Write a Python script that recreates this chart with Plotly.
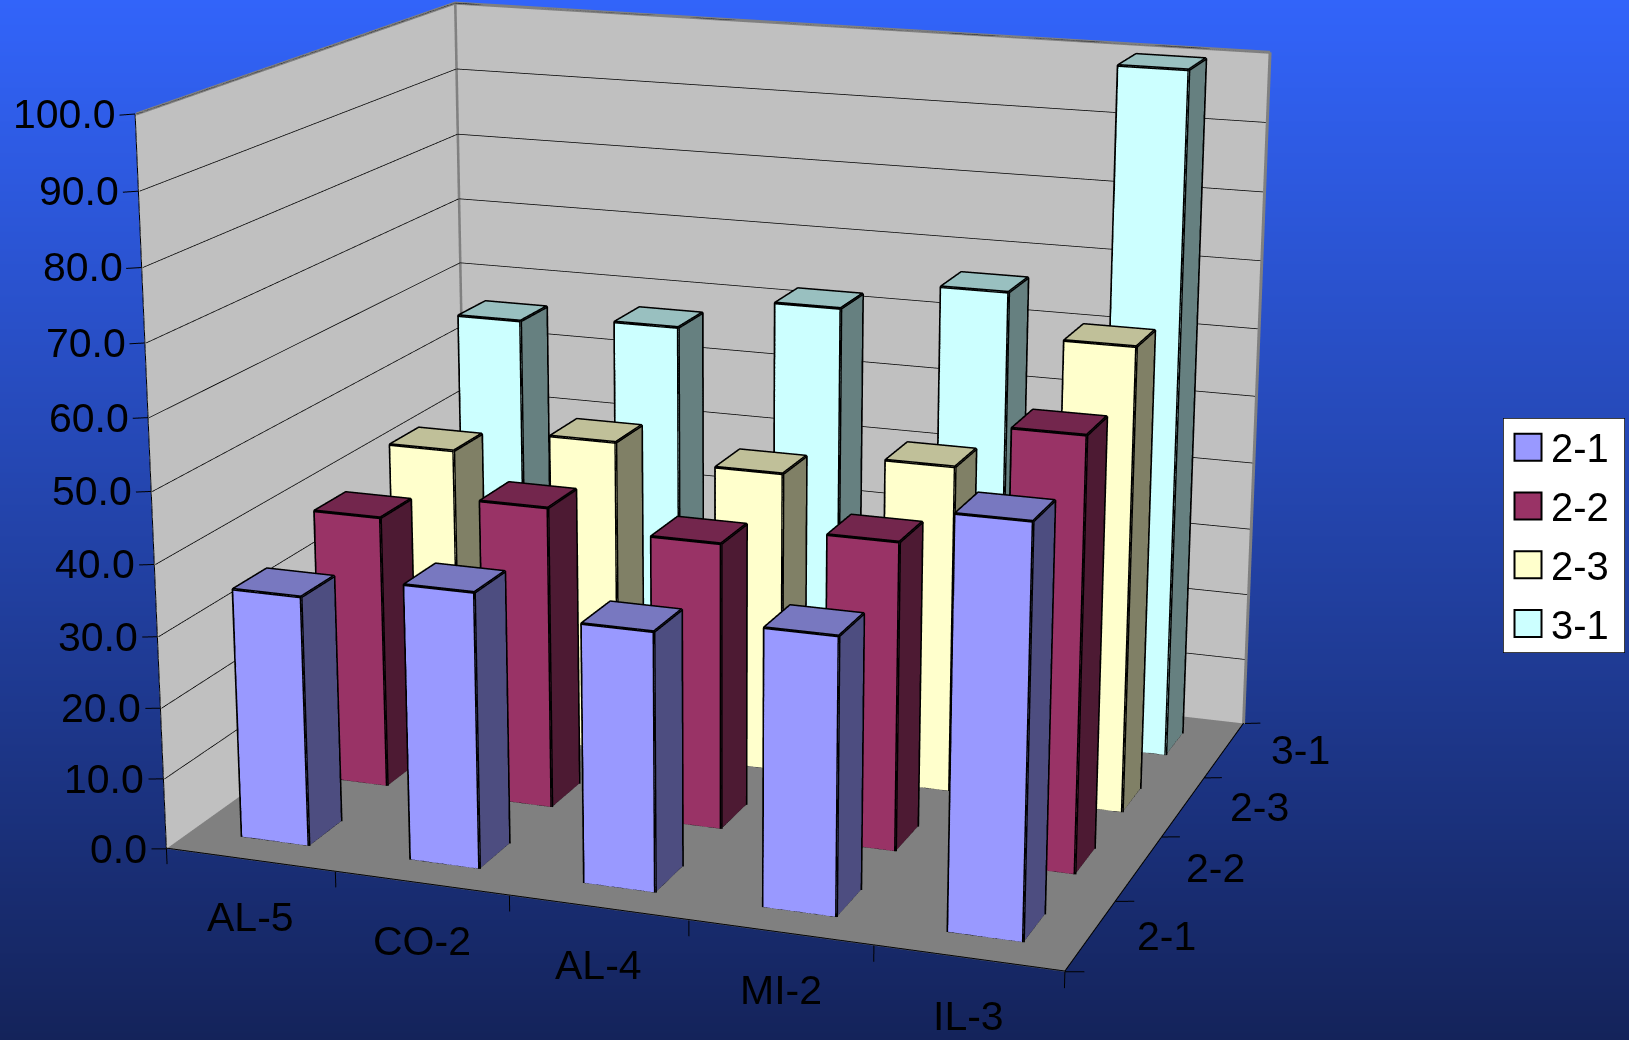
import numpy as np
import plotly.graph_objects as go

# chart data
categories = ["AL-5", "CO-2", "AL-4", "MI-2", "IL-3"]
series_names = ["2-1", "2-2", "2-3", "3-1"]
values_2_1 = [35.2, 38.5, 35.9, 38.1, 55.7]
values_2_2 = [39.3, 43.2, 40.7, 43.5, 60.4]
values_2_3 = [42.5, 46.1, 43.9, 47.3, 66.4]
values_3_1 = [56.1, 57.2, 62.1, 66.5, 99.8]
z_ticks = [0, 10, 20, 30, 40, 50, 60, 70, 80, 90, 100]
series_values = [values_2_1, values_2_2, values_2_3, values_3_1]

# face colours per series: front, side, top
front_colors = ["#9999FF", "#993366", "#FFFFCC", "#CCFFFF"]
side_colors = ["#4D4D80", "#4D1A33", "#808066", "#668080"]
top_colors = ["#7878C0", "#73264D", "#C0C099", "#99C0C0"]

W, H = 1629, 1040
FOCAL = 3895.3   # lens focal length, pixels
BW = 0.4         # bar width and depth, in category cells
EPS = 0.006      # lifts wall lines off the wall surface

# camera: eye position, yaw, pitch, roll and the box proportions
eye = np.array([1.4186, -3.8889, 1.1151])
yaw, pitch, roll = -0.3274, 0.2832, 0.0069
Lx, Ly, Lz = 1.0, 0.7981, 0.7987

look = np.array([np.cos(pitch) * np.sin(yaw), np.cos(pitch) * np.cos(yaw), -np.sin(pitch)])
right = np.cross(look, [0, 0, 1.0])
right /= np.linalg.norm(right)
up = np.cross(right, look)
up = -right * np.sin(roll) + up * np.cos(roll)

x_rng, y_rng, z_rng = [-0.5, 5.5], [-0.5, 4.5], [-10, 110]
aspect = dict(x=Lx * 6 / 5, y=Ly * 5 / 4, z=Lz * 1.2)

fig = go.Figure()

# page background: vertical blue ramp
ys = np.linspace(0, 1, 128)
fig.add_trace(go.Heatmap(x=[0, 1], y=ys, z=[[v, v] for v in ys], showscale=False, hoverinfo="skip",
                         colorscale=[[0, "#14235A"], [1, "#3264FA"]], xaxis="x", yaxis="y", zsmooth="best"))


def quad_mesh(quads, color):
    xs, yv, zs, i, j, k = [], [], [], [], [], []
    for q in quads:
        n = len(xs)
        for p in q:
            xs.append(p[0]); yv.append(p[1]); zs.append(p[2])
        i += [n, n]; j += [n + 1, n + 2]; k += [n + 2, n + 3]
    return go.Mesh3d(x=xs, y=yv, z=zs, i=i, j=j, k=k, color=color, flatshading=True, hoverinfo="skip",
                     lighting=dict(ambient=1, diffuse=0, specular=0, fresnel=0, roughness=1),
                     showscale=False)


def polyline(segments, color, width):
    xs, yv, zs = [], [], []
    for s in segments:
        for p in s:
            xs.append(p[0]); yv.append(p[1]); zs.append(p[2])
        xs.append(None); yv.append(None); zs.append(None)
    return go.Scatter3d(x=xs, y=yv, z=zs, mode="lines", line=dict(color=color, width=width),
                        hoverinfo="skip", showlegend=False)


nx, ny = len(categories), len(series_names)
# walls and floor
fig.add_trace(quad_mesh([[(0, 0, 0), (nx, 0, 0), (nx, ny, 0), (0, ny, 0)]], "#808080"))
fig.add_trace(quad_mesh([[(0, 0, 0), (0, ny, 0), (0, ny, 100), (0, 0, 100)],
                         [(0, ny, 0), (nx, ny, 0), (nx, ny, 100), (0, ny, 100)]], "#C0C0C0"))
grid = [[(EPS, 0, v), (EPS, ny - EPS, v), (nx, ny - EPS, v)] for v in z_ticks[1:]]
fig.add_trace(polyline(grid, "#000000", 1.5))
fig.add_trace(polyline([[(EPS, 0, 100), (EPS, ny - EPS, 100), (nx, ny - EPS, 100)],
                        [(EPS, ny - EPS, 0), (EPS, ny - EPS, 100)],
                        [(nx, ny - EPS, 0), (nx, ny - EPS, 100)]], "#808080", 6))
ticks = [[(0, 0, 0), (0, 0, 100)], [(0, 0, 0.1), (nx, 0, 0.1), (nx, ny, 0.1)]]
for v in z_ticks:
    ticks.append([(0, 0, v), (-0.09, 0, v - 0.3)])
for i in range(nx + 1):
    ticks.append([(i, 0, 0), (i, 0, -2.2)])
for j in range(ny + 1):
    ticks.append([(nx, j, 0), (nx + 0.1, j, 0.35)])
fig.add_trace(polyline(ticks, "#000000", 2))

# one prism per value, rear rows first
for s in range(ny - 1, -1, -1):
    fronts, sides, tops, edges = [], [], [], []
    for c, v in enumerate(series_values[s]):
        x0, x1 = c + .5 - BW / 2, c + .5 + BW / 2
        y0, y1 = s + .5 - BW / 2, s + .5 + BW / 2
        fronts.append([(x0, y0, 0), (x1, y0, 0), (x1, y0, v), (x0, y0, v)])
        sides.append([(x1, y0, 0), (x1, y1, 0), (x1, y1, v), (x1, y0, v)])
        tops.append([(x0, y0, v), (x1, y0, v), (x1, y1, v), (x0, y1, v)])
        edges += [[(x0, y0, 0), (x1, y0, 0), (x1, y1, 0), (x1, y1, v), (x0, y1, v), (x0, y0, v), (x0, y0, 0)],
                  [(x1, y0, 0), (x1, y0, v), (x0, y0, v)], [(x1, y0, v), (x1, y1, v)]]
    fig.add_trace(quad_mesh(fronts, front_colors[s]))
    fig.add_trace(quad_mesh(sides, side_colors[s]))
    fig.add_trace(quad_mesh(tops, top_colors[s]))
    fig.add_trace(polyline(edges, "#000000", 6))

# key on the right
fig.add_trace(go.Scatter(x=[0.205] * 4, y=series_names, mode="markers",
                         marker=dict(symbol="square", size=27, color=front_colors, line=dict(color="#000", width=2)),
                         xaxis="x2", yaxis="y2", hoverinfo="skip", showlegend=False))
key_font = dict(family="Liberation Sans", size=40, color="#000")
key_labels = [dict(xref="x2", yref="y2", x=0.375, y=k, text=n, showarrow=False, xanchor="left", yanchor="middle",
                   yshift=-1, font=key_font) for k, n in enumerate(series_names)]

# axis labels sit in the scene so they follow the 3D axes
label_font = dict(family="Liberation Sans", size=41, color="#000000")
annotations = []
for v in z_ticks:
    annotations.append(dict(x=0, y=0, z=v, text=f"{v:.1f}", showarrow=False, xanchor="right", yanchor="middle", xshift=-17, font=label_font))
for i, c in enumerate(categories):
    annotations.append(dict(x=i + .5, y=0, z=0, text=c, showarrow=False, xanchor="center", yanchor="middle", yshift=-57, font=label_font))
for j, s in enumerate(series_names):
    annotations.append(dict(x=nx, y=j + .5, z=0, text=s, showarrow=False, xanchor="center", yanchor="middle", xshift=76, font=label_font))

hidden = dict(visible=False)
fig.update_layout(
    width=W, height=H, margin=dict(l=0, r=0, t=0, b=0), showlegend=False,
    paper_bgcolor="#14235A", plot_bgcolor="rgba(0,0,0,0)",
    xaxis=dict(domain=[0, 1], range=[0, 1], **hidden), yaxis=dict(domain=[0, 1], range=[0, 1], **hidden),
    xaxis2=dict(domain=[1503 / W, 1625 / W], range=[0, 1], anchor="y2", **hidden),
    yaxis2=dict(domain=[1 - 653 / H, 1 - 418 / H], type="category", categoryarray=series_names, range=[3.5, -0.5], anchor="x2", **hidden),
    shapes=[dict(type="rect", xref="x2", yref="y2", x0=0, x1=1, y0=-0.5, y1=3.5, fillcolor="#FFFFFF", line=dict(color="#000", width=1.5), layer="below")],
    annotations=key_labels,
    scene=dict(
        domain=dict(x=[0, 1], y=[0, 1]), bgcolor="rgba(0,0,0,0)", hovermode=False,
        xaxis=dict(range=x_rng, visible=False), yaxis=dict(range=y_rng, visible=False), zaxis=dict(range=z_rng, visible=False),
        aspectmode="manual", aspectratio=aspect,
        camera=dict(eye=dict(x=eye[0], y=eye[1], z=eye[2]),
                    center=dict(x=eye[0] + look[0], y=eye[1] + look[1], z=eye[2] + look[2]),
                    up=dict(x=up[0], y=up[1], z=up[2]), projection=dict(type="perspective")),
        annotations=annotations,
    ),
)

# narrow the 3D field of view to the long lens
fovy = 2 * np.arctan((H / 2) / FOCAL)
lens_script = """
(function () {
  var gd = document.getElementById('{plot_id}'), tries = 0;
  function apply() {
    var s = gd._fullLayout && gd._fullLayout.scene && gd._fullLayout.scene._scene;
    if (s && s.glplot) { s.glplot.fovy = FOVY; s.glplot.redraw(); return true; }
    return false;
  }
  if (!apply()) {
    var timer = setInterval(function () { if (apply() || ++tries > 100) clearInterval(timer); }, 30);
  }
})();
""".replace("FOVY", f"{fovy:.6f}")
fig.write_html("out.html", config=dict(displayModeBar=False), post_script=lens_script)
